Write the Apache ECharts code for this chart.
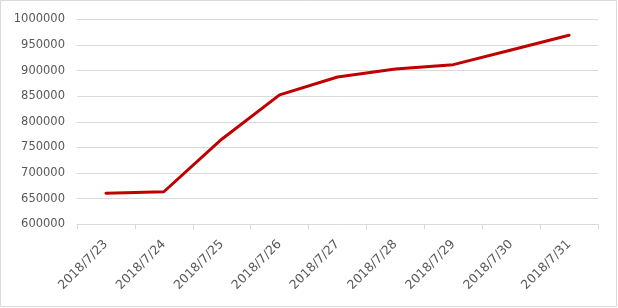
<!DOCTYPE html>
<html>
<head>
<meta charset="utf-8">
<script src="https://cdn.jsdelivr.net/npm/echarts@6/dist/echarts.min.js"></script>
<style>
html,body{margin:0;padding:0;background:#fff;}
#chart{width:618px;height:308px;}
</style>
</head>
<body>
<div id="chart"></div>
<script>
const categories = ['2018/7/23','2018/7/24','2018/7/25','2018/7/26','2018/7/27','2018/7/28','2018/7/29','2018/7/30','2018/7/31'];
const values = [660500, 663500, 766000, 852500, 887500, 903000, 911500, 940000, 969000];
const yMin = 600000, yMax = 1000000, yStep = 50000;

const chart = echarts.init(document.getElementById('chart'), null, {renderer:'canvas'});
const font = 'DejaVu Sans';
chart.setOption({
  animation: false,
  backgroundColor: '#ffffff',
  graphic: [{
    type: 'rect',
    shape: {x: 0.5, y: 0.5, width: 616, height: 306},
    style: {fill: 'none', stroke: '#d9d9d9', lineWidth: 1},
    z: 0
  }],
  grid: {left: 77, right: 20, top: 19.3, bottom: 83.7, containLabel: false},
  xAxis: {
    type: 'category',
    data: categories,
    boundaryGap: true,
    axisLine: {lineStyle: {color: '#d9d9d9', width: 1}},
    axisTick: {show: true, length: 5, lineStyle: {color: '#d9d9d9'}},
    axisLabel: {rotate: 45, color: '#595959', fontFamily: font, fontSize: 12.5, margin: 18, padding: [6, 0, 0, 0], interval: 0}
  },
  yAxis: {
    type: 'value',
    min: yMin, max: yMax, interval: yStep,
    axisLine: {show: false},
    axisTick: {show: false},
    splitLine: {lineStyle: {color: '#d9d9d9', width: 1}},
    axisLabel: {color: '#595959', fontFamily: font, fontSize: 11.5, margin: 12, formatter: v => String(v)}
  },
  series: [{
    type: 'line',
    data: values,
    symbol: 'none',
    lineStyle: {color: '#c00000', width: 3, cap: 'round', join: 'round'},
    itemStyle: {color: '#c00000'}
  }]
});
</script>
</body>
</html>
